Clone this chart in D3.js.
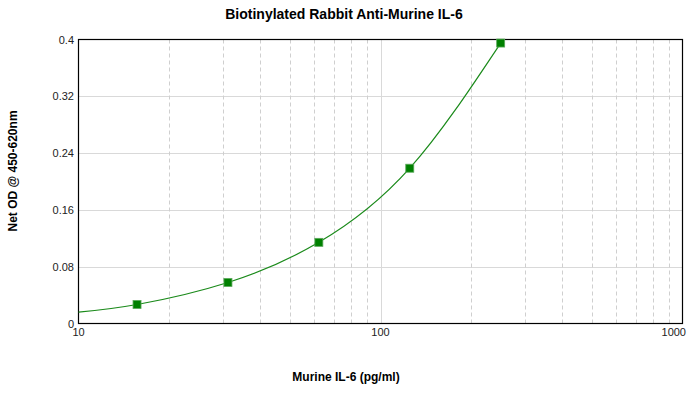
<!DOCTYPE html>
<html><head><meta charset="utf-8">
<script src="https://cdn.jsdelivr.net/npm/d3@7"></script>
<style>body{margin:0;background:#fff}svg{display:block}text{font-family:"Liberation Sans",Arial,sans-serif}</style>
</head><body>
<svg id="c" width="700" height="411"></svg>
<script>
const concentrations = [15.625, 31.25, 62.5, 125, 250];
const odValues = [0.0268, 0.0578, 0.1143, 0.2187, 0.395];
const curveX = [10, 15.625, 31.25, 62.5, 125, 250];
const curveY = [0.0159, 0.0268, 0.0578, 0.1143, 0.2187, 0.395];
const yTicks = [0, 0.08, 0.16, 0.24, 0.32, 0.4];
const yTickLabels = ["0", "0.08", "0.16", "0.24", "0.32", "0.4"];
const xTicks = [10, 100, 1000];
const xMinor = [20,30,40,50,60,70,80,90,200,300,400,500,600,700,800,900];

const svg = d3.select("#c");
const L = 78.5, R = 682.5, T = 39.5, B = 323.5;
const x = d3.scaleLog().domain([10, 1000]).range([L, R]);
const y = d3.scaleLinear().domain([0, 0.4]).range([B, T]);
const px = v => Math.round(v) + 0.5;

// grid
svg.append("g").selectAll("line").data(yTicks.slice(1, -1)).join("line")
  .attr("x1", L).attr("x2", R).attr("y1", d => px(y(d))).attr("y2", d => px(y(d)))
  .attr("stroke", "#d9d9d9").attr("stroke-width", 1);
svg.append("g").selectAll("line").data(xMinor).join("line")
  .attr("x1", d => px(x(d))).attr("x2", d => px(x(d))).attr("y1", T).attr("y2", B)
  .attr("stroke", "#cfcfcf").attr("stroke-width", 1).attr("stroke-dasharray", "4,3");
svg.append("line").attr("x1", px(x(100))).attr("x2", px(x(100))).attr("y1", T).attr("y2", B)
  .attr("stroke", "#d9d9d9");

// frame
svg.append("rect").attr("x", L).attr("y", T).attr("width", R - L).attr("height", B - T)
  .attr("fill", "none").attr("stroke", "#000").attr("stroke-width", 1.2);

// curve
const pts = curveX.map((d, i) => [d, curveY[i]]);
svg.append("path").datum(pts)
  .attr("d", d3.line().x(d => x(d[0])).y(d => y(d[1])).curve(d3.curveNatural))
  .attr("fill", "none").attr("stroke", "#1a8a1a").attr("stroke-width", 1.2);

// markers
svg.append("g").selectAll("rect").data(concentrations).join("rect")
  .attr("x", d => x(d) - 4).attr("y", (d, i) => y(odValues[i]) - 4)
  .attr("width", 8).attr("height", 8)
  .attr("fill", "#008000").attr("stroke", "#5aa85a").attr("stroke-width", 0.8);

// y tick labels
svg.append("g").selectAll("text").data(yTicks).join("text")
  .attr("x", 74).attr("y", d => y(d) + 4)
  .attr("text-anchor", "end").attr("font-size", 11).attr("fill", "#222")
  .text((d, i) => yTickLabels[i]);

// x tick labels
svg.append("g").selectAll("text").data(xTicks).join("text")
  .attr("x", (d, i) => i === xTicks.length - 1 ? 686 : x(d))
  .attr("y", 335.5)
  .attr("text-anchor", (d, i) => i === xTicks.length - 1 ? "end" : "middle")
  .attr("font-size", 11).attr("fill", "#222")
  .text(d => d3.format("d")(d));

// titles
svg.append("text").attr("x", 344).attr("y", 19).attr("text-anchor", "middle")
  .attr("font-size", 14).attr("font-weight", "bold").text("Biotinylated Rabbit Anti-Murine IL-6");
svg.append("text").attr("x", 346).attr("y", 381).attr("text-anchor", "middle")
  .attr("font-size", 12).attr("font-weight", "bold").text("Murine IL-6 (pg/ml)");
svg.append("text").attr("transform", "translate(16.5,171) rotate(-90)").attr("text-anchor", "middle")
  .attr("font-size", 12).attr("font-weight", "bold").text("Net OD @ 450-620nm");
</script>
</body></html>
